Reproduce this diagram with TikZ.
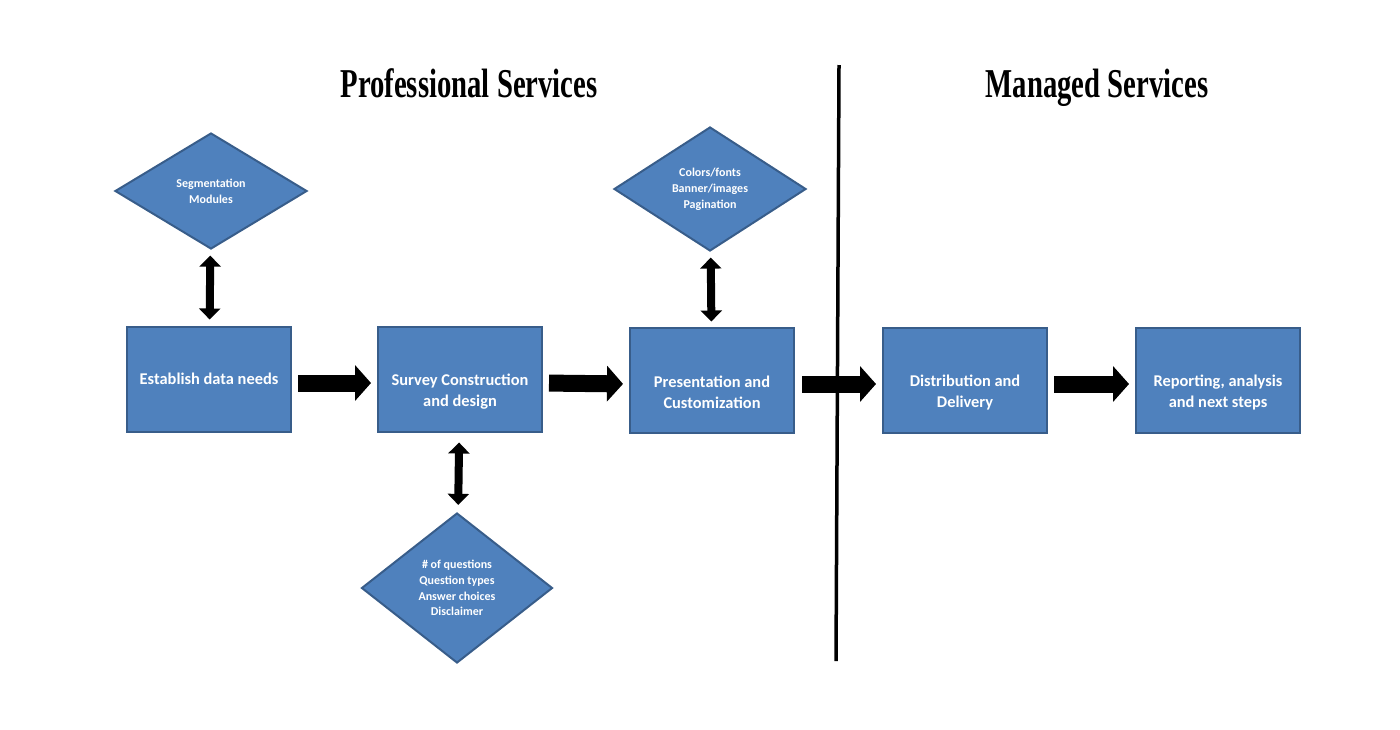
\documentclass[tikz,border=0pt]{standalone}
\usepackage{fontspec}
\setmainfont{Carlito}
\newfontfamily\titlefont[FakeStretch=0.7]{Liberation Serif}
\usetikzlibrary{shapes,arrows.meta}
\definecolor{boxfill}{RGB}{79,129,189}
\definecolor{boxline}{RGB}{56,93,138}
\tikzset{
	block/.style    = {draw=boxline, fill=boxfill, line width=1pt, rectangle,
		minimum width=82pt, minimum height=52.5pt, text=white, align=center,
		font=\fontsize{8.2}{10.5}\selectfont\bfseries},
	lower/.style    = {text height=28.5pt}, % two-line blocks sit low
	choice/.style   = {draw=boxline, fill=boxfill, line width=1pt, diamond,
		inner sep=0pt, text=white, align=center,
		font=\fontsize{6}{7.9}\selectfont\bfseries},
	flow/.style     = {line width=8.5pt, -{Triangle[width=17.5pt, length=8pt]}}, % Block arrow
	link/.style     = {line width=4pt, {Triangle[width=10.5pt, length=5.5pt]}-{Triangle[width=10.5pt, length=5.5pt]}}, % Two-way arrow
	divider/.style  = {line width=1.75pt},
	heading/.style  = {anchor=base, font=\fontsize{20.5}{24}\titlefont\bfseries}
}

\begin{document}
\begin{tikzpicture}[x=0.5pt, y=-0.5pt]
	\useasboundingbox (0,0) rectangle (1400,729);
	\draw
	% Drawing the headings
	node at (469,97) [heading] (h1) {Professional Services}
	node at (1097,97) [heading] (h2) {Managed Services}
	% Drawing the process blocks
	node at (209,379) [block] (b1) {Establish data needs}
	node at (460,379) [block, lower] (b2) {Survey Construction\\and design}
	node at (712,380) [block, lower] (b3) {Presentation and\\Customization}
	node at (965,380) [block, lower] (b4) {Distribution and\\Delivery}
	node at (1218,380) [block, lower] (b5) {Reporting, analysis\\and next steps}
	% Drawing the diamonds
	node at (211,191) [choice, minimum width=96pt, minimum height=58pt] (c1) {Segmentation\\Modules}
	node at (710,189) [choice, minimum width=96pt, minimum height=62pt] (c3) {Colors/fonts\\Banner/images\\Pagination}
	node at (457,588) [choice, minimum width=95.5pt, minimum height=75pt] (c2) {\# of questions\\Question types\\Answer choices\\Disclaimer}
	;
	
	\coordinate (l1) at (839,65);
	\coordinate (l2) at (836,661);
	\draw[divider] (l1) -- (l2);
	
	\draw[flow, shorten <=3pt, shorten >=3pt] ([yshift=-2pt]b1.east) -- ([yshift=-2pt]b2.west);
	\draw[flow, shorten <=3pt, shorten >=3pt] ([yshift=-2pt]b2.east) -- ([yshift=-2pt]b3.west);
	\draw[flow, shorten <=3.5pt, shorten >=3pt] ([yshift=-2pt]b3.east) -- ([yshift=-2pt]b4.west);
	\draw[flow, shorten <=3pt, shorten >=3pt] ([yshift=-2pt]b4.east) -- ([yshift=-2pt]b5.west);
	\draw[link, shorten <=3pt, shorten >=3pt] (c1) -- (b1);
	\draw[link, shorten <=3pt, shorten >=2.5pt] (c3) -- (b3);
	\draw[link, shorten <=5pt, shorten >=4pt] (b2) -- (c2);
\end{tikzpicture}
\end{document}
